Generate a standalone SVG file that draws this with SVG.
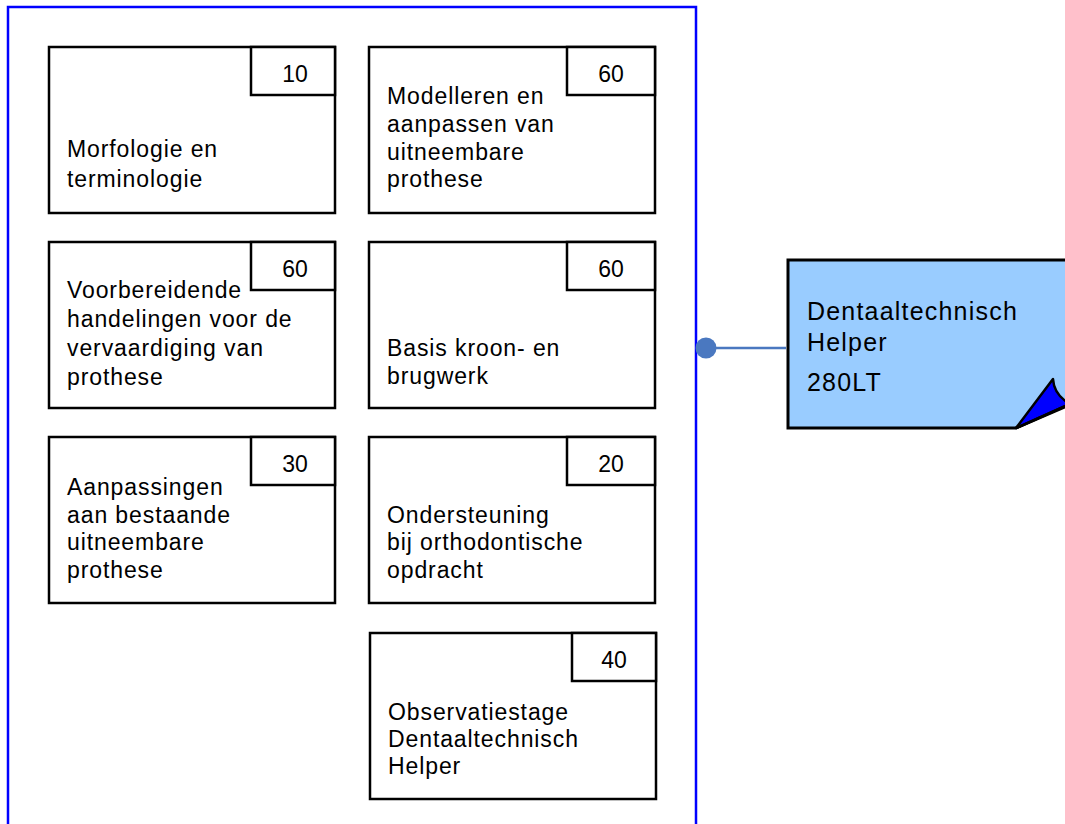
<svg xmlns="http://www.w3.org/2000/svg" width="1065" height="824" viewBox="0 0 1065 824">
<defs>
<style>
.frame{fill:none;stroke:#0000ff;stroke-width:2.5}
.box{fill:#ffffff;stroke:#000000;stroke-width:2.5}
.t{font-family:"Liberation Sans",Arial,sans-serif;font-size:23px;fill:#000000;letter-spacing:0.9px}
.n{font-family:"Liberation Sans",Arial,sans-serif;font-size:23px;fill:#000000;text-anchor:middle}
.nt{font-family:"Liberation Sans",Arial,sans-serif;font-size:25px;fill:#000000;letter-spacing:1.2px}
.conn{stroke:#4a78c0;stroke-width:2.5;fill:none}
</style>
</defs>
<rect width="1065" height="824" fill="#ffffff"/>
<g id="container">
<rect class="frame" x="8" y="7" width="688" height="840"/>
</g>
<g id="node-morfologie">
<rect class="box" x="49" y="47" width="286" height="166"/>
<rect class="box" x="251" y="47" width="84" height="48"/>
<text class="n" x="295" y="82">10</text>
<text class="t" x="67" y="157">Morfologie en</text>
<text class="t" x="67" y="187">terminologie</text>
</g>
<g id="node-modelleren">
<rect class="box" x="369" y="47" width="286" height="166"/>
<rect class="box" x="567" y="47" width="88" height="48"/>
<text class="n" x="611" y="82">60</text>
<text class="t" x="387" y="104">Modelleren en</text>
<text class="t" x="387" y="132">aanpassen van</text>
<text class="t" x="387" y="160">uitneembare</text>
<text class="t" x="387" y="187">prothese</text>
</g>
<g id="node-voorbereidende">
<rect class="box" x="49" y="242" width="286" height="166"/>
<rect class="box" x="251" y="242" width="84" height="48"/>
<text class="n" x="295" y="277">60</text>
<text class="t" x="67" y="298">Voorbereidende</text>
<text class="t" x="67" y="327">handelingen voor de</text>
<text class="t" x="67" y="356">vervaardiging van</text>
<text class="t" x="67" y="385">prothese</text>
</g>
<g id="node-basis">
<rect class="box" x="369" y="242" width="286" height="166"/>
<rect class="box" x="567" y="242" width="88" height="48"/>
<text class="n" x="611" y="277">60</text>
<text class="t" x="387" y="356">Basis kroon- en</text>
<text class="t" x="387" y="384">brugwerk</text>
</g>
<g id="node-aanpassingen">
<rect class="box" x="49" y="437" width="286" height="166"/>
<rect class="box" x="251" y="437" width="84" height="48"/>
<text class="n" x="295" y="472">30</text>
<text class="t" x="67" y="495">Aanpassingen</text>
<text class="t" x="67" y="523">aan bestaande</text>
<text class="t" x="67" y="550">uitneembare</text>
<text class="t" x="67" y="578">prothese</text>
</g>
<g id="node-ondersteuning">
<rect class="box" x="369" y="437" width="286" height="166"/>
<rect class="box" x="567" y="437" width="88" height="48"/>
<text class="n" x="611" y="472">20</text>
<text class="t" x="387" y="523">Ondersteuning</text>
<text class="t" x="387" y="550">bij orthodontische</text>
<text class="t" x="387" y="578">opdracht</text>
</g>
<g id="node-observatiestage">
<rect class="box" x="370" y="633" width="286" height="166"/>
<rect class="box" x="572" y="633" width="84" height="48"/>
<text class="n" x="614" y="668">40</text>
<text class="t" x="388" y="720">Observatiestage</text>
<text class="t" x="388" y="747">Dentaaltechnisch</text>
<text class="t" x="388" y="774">Helper</text>
</g>
<g id="connectors">
<path class="conn" d="M706 348 L786 348"/>
<circle cx="706" cy="348" r="10.5" fill="#4a78c0"/>
</g>
<g id="node-helper">
<path d="M788 260 L1090 260 L1090 396 L1016 428 L788 428 Z" fill="#99ccff" stroke="#000000" stroke-width="3" stroke-linejoin="miter"/>
<path d="M1016 428 L1053 379 Q1054 395 1070 404 Z" fill="#0000ff" stroke="#000000" stroke-width="2.5" stroke-linejoin="round"/>
<path d="M1016 428 L1070 404" stroke="#000000" stroke-width="2.5"/>
<text class="nt" x="807" y="320">Dentaaltechnisch</text>
<text class="nt" x="807" y="351">Helper</text>
<text class="nt" x="807" y="391">280LT</text>
</g>
</svg>
